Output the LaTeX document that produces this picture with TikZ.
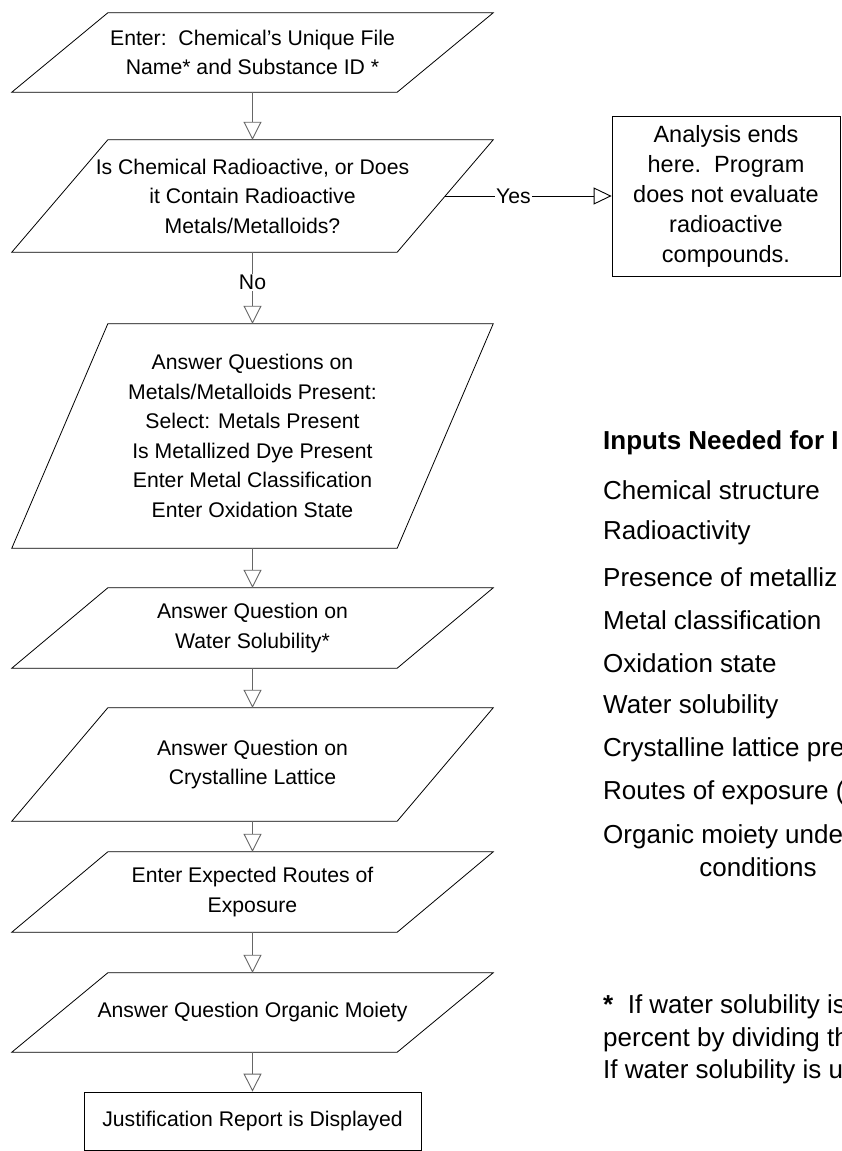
\documentclass[tikz,border=0pt]{standalone}
\usepackage{fontspec}
\setmainfont{Liberation Sans}
\usetikzlibrary{arrows.meta}

% slanted input box drawn round a named node
\newcommand{\slantbox}[1]{\draw[line width=0.8pt] ([xshift=48pt]#1.north west) -- ([xshift=48pt]#1.north east) -- ([xshift=-48pt]#1.south east) -- ([xshift=-48pt]#1.south west) -- cycle;}

\begin{document}
\begin{tikzpicture}[x=1pt, y=-1pt,
  inbox/.style = {minimum width=385pt, inner sep=0pt, align=center, font=\fontsize{21.2}{29.5}\selectfont},
  endbox/.style = {draw, line width=0.8pt, inner sep=0pt, align=center},
  flow/.style = {draw=black!60, line width=1.3pt, -{Triangle[open, length=18pt, width=18pt, line width=0.9pt]}},
  side/.style = {draw=black, line width=0.8pt, -{Triangle[open, length=18pt, width=17pt, line width=0.9pt]}},
  lbl/.style = {fill=white, inner sep=1pt, font=\fontsize{21.2}{24}\selectfont},
  txt/.style = {anchor=west, inner sep=0pt, font=\fontsize{26}{32}\selectfont}]
  \path[use as bounding box, clip] (0,0) rectangle (841,1151);
  % flow chart
  \node[inbox, minimum height=79pt] (b1) at (252.5,52.5) {Enter:\ \ Chemical's Unique File\\Name* and Substance ID *};
  \node[inbox, minimum height=112pt] (b2) at (252.5,196) {Is Chemical Radioactive, or Does\\it Contain Radioactive\\Metals/Metalloids?};
  \node[inbox, minimum height=224pt] (b3) at (252.5,436) {Answer Questions on\\Metals/Metalloids Present:\\Select: Metals Present\\Is Metallized Dye Present\\Enter Metal Classification\\Enter Oxidation State};
  \node[inbox, minimum height=80pt] (b4) at (252.5,628) {Answer Question on\\Water Solubility*};
  \node[inbox, minimum height=113pt] (b5) at (252.5,764.5) {Answer Question on\\Crystalline Lattice};
  \node[inbox, minimum height=80pt] (b6) at (252.5,892) {Enter Expected Routes of\\Exposure};
  \node[inbox, minimum height=79pt] (b7) at (252.5,1012.5) {Answer Question Organic Moiety};
  \slantbox{b1} \slantbox{b2} \slantbox{b3} \slantbox{b4} \slantbox{b5} \slantbox{b6} \slantbox{b7}
  \node[endbox, minimum width=337pt, minimum height=58pt, font=\fontsize{21.2}{29.5}\selectfont] (rep) at (252.5,1121) {Justification Report is Displayed};
  \node[endbox, minimum width=228pt, minimum height=160pt, font=\fontsize{23.5}{30}\selectfont] (stop) at (726,196) {Analysis ends\\here.\ \ Program\\does not evaluate\\radioactive\\compounds.};
  \draw[flow] (b1.south) -- (b2.north);
  \draw[flow] (b2.south) -- node[lbl, pos=0.42] {No} (b3.north);
  \draw[flow] (b3.south) -- (b4.north);
  \draw[flow] (b4.south) -- (b5.north);
  \draw[flow] (b5.south) -- (b6.north);
  \draw[flow] (b6.south) -- (b7.north);
  \draw[flow] (b7.south) -- (rep.north);
  \draw[side] (b2.east) -- node[lbl, pos=0.41] {Yes} (stop.west);
  % inputs list
  \node[txt, font=\fontsize{26}{32}\selectfont\bfseries] (head) at (603,443) {Inputs Needed for I};
  \node[txt] (in1) at (603,490) {Chemical structure};
  \node[txt] (in2) at (603,533) {Radioactivity};
  \node[txt] (in3) at (603,577) {Presence of metalliz};
  \node[txt] (in4) at (603,620) {Metal classification};
  \node[txt] (in5) at (603,663) {Oxidation state};
  \node[txt] (in6) at (603,707) {Water solubility};
  \node[txt] (in7) at (603,750) {Crystalline lattice pre};
  \node[txt] (in8) at (603,793) {Routes of exposure (};
  \node[txt] (in9) at (603,837) {Organic moiety unde};
  \node[txt, anchor=center] (in9b) at (758,867) {conditions};
  % footnote
  \node[txt] (fn1) at (603,1007) {\textbf{*}\ \ If water solubility is};
  \node[txt] (fn2) at (603,1040) {percent by dividing th};
  \node[txt] (fn3) at (603,1072) {If water solubility is u};
\end{tikzpicture}
\end{document}
